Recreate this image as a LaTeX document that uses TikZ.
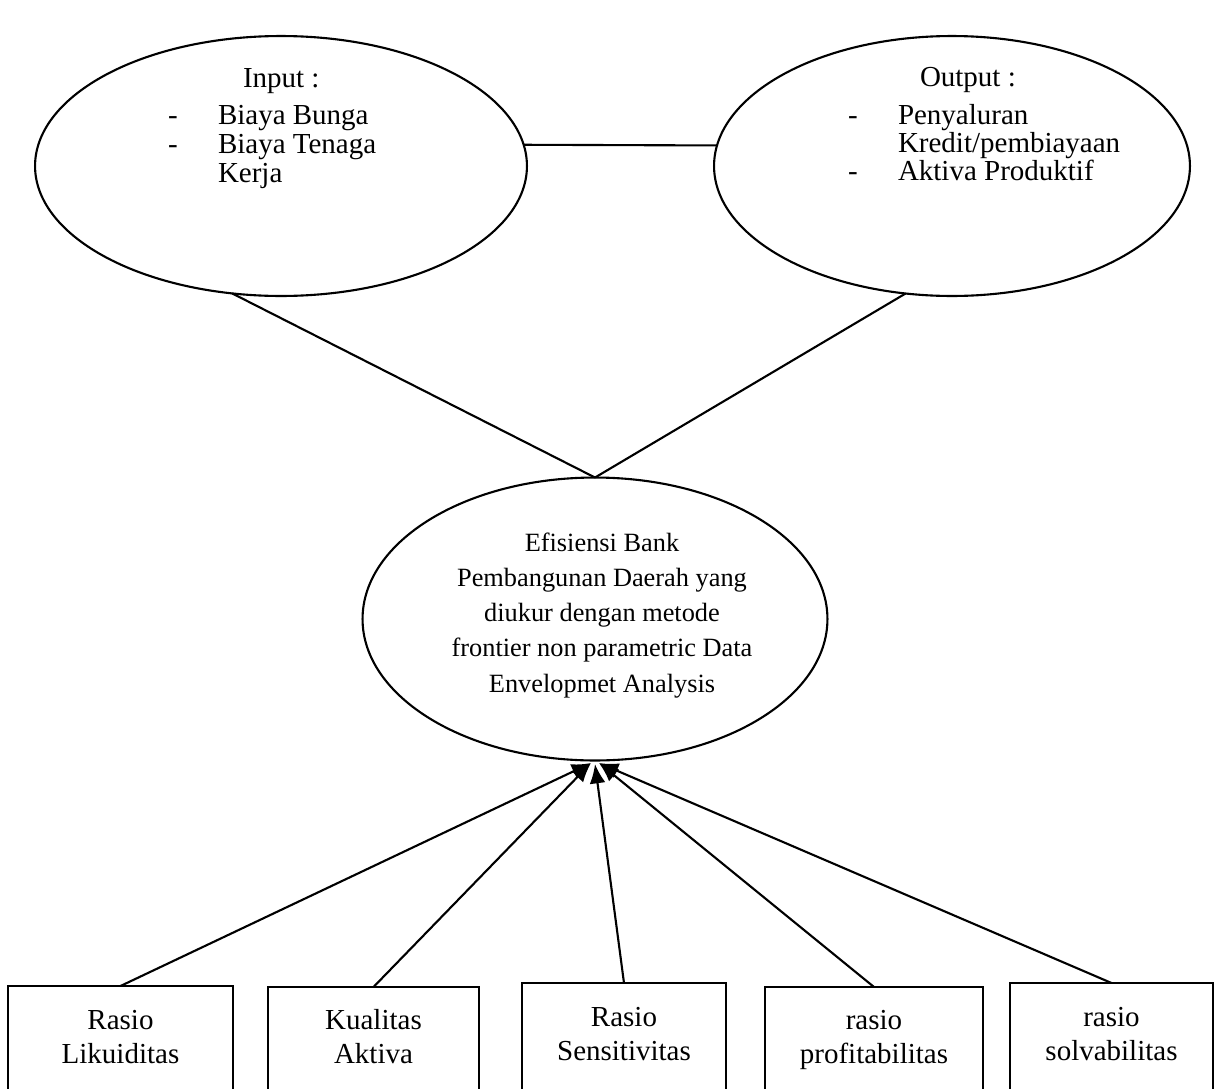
\documentclass[tikz,border=0pt]{standalone}
\usepackage{fontspec}
\setmainfont{Liberation Serif}
\usetikzlibrary{arrows.meta,shapes.geometric}
\begin{document}
\begin{tikzpicture}[x=0.02cm,y=-0.02cm,
  every node/.style={inner sep=0pt,outer sep=0pt},
  oval/.style={draw,ellipse,line width=1.2pt},
  box/.style={draw,rectangle,line width=1.2pt,anchor=north,minimum height=3cm},
  toptext/.style={anchor=base west,font=\fontsize{16.5}{19}\selectfont},
  ctrtext/.style={align=center,anchor=base,font=\fontsize{15}{20}\selectfont},
  boxtext/.style={align=center,anchor=base,font=\fontsize{16.5}{19.3}\selectfont},
  link/.style={line width=1.2pt},
  arr/.style={line width=1.2pt,-{Latex[length=11pt,width=9pt]}}
]
\useasboundingbox (0,0) rectangle (1225,1089);
\clip (0,0) rectangle (1225,1089);

% ellipses
\node[oval,minimum width=9.84cm,minimum height=5.2cm] (inp) at (281,166) {};
\node[oval,minimum width=9.52cm,minimum height=5.2cm] (out) at (952,166) {};
\node[oval,minimum width=9.3cm,minimum height=5.66cm] (ctr) at (595,619) {};

% input text
\node[toptext] (inT) at (243,87) {Input :};
\node[toptext] (inD1) at (168,124) {-};
\node[toptext] (inA) at (218,124) {Biaya Bunga};
\node[toptext] (inD2) at (168,153) {-};
\node[toptext] (inB) at (218,153) {Biaya Tenaga};
\node[toptext] (inC) at (218,182) {Kerja};

% output text
\node[toptext] (outT) at (920,86) {Output :};
\node[toptext] (outD1) at (848,124) {-};
\node[toptext] (outA) at (898,124) {Penyaluran};
\node[toptext] (outB) at (898,152) {Kredit/pembiayaan};
\node[toptext] (outD2) at (848,180) {-};
\node[toptext] (outC) at (898,180) {Aktiva Produktif};

% centre text
\node[ctrtext] (ctrT) at (602,692) {Efisiensi Bank\\Pembangunan Daerah yang\\diukur dengan metode\\frontier non parametric Data\\Envelopmet Analysis};

% boxes
\node[box,minimum width=4.5cm] (b1) at (120.5,986) {};
\node[box,minimum width=4.22cm] (b2) at (373.5,987) {};
\node[box,minimum width=4.08cm] (b3) at (624,983) {};
\node[box,minimum width=4.36cm] (b4) at (874,987) {};
\node[box,minimum width=4.06cm] (b5) at (1111.5,983) {};

\node[boxtext] (t1) at (120.5,1063) {Rasio\\Likuiditas};
\node[boxtext] (t2) at (373.5,1063) {Kualitas\\Aktiva};
\node[boxtext] (t3) at (624,1060) {Rasio\\Sensitivitas};
\node[boxtext] (t4) at (874,1063) {rasio\\profitabilitas};
\node[boxtext] (t5) at (1111.5,1060) {rasio\\solvabilitas};

% connectors
\draw[link] (inp.5) -- (out.175);
\draw[link] (inp.249) -- (ctr.north);
\draw[link] (out.250) -- (ctr.north);

\coordinate (tipA) at (591,763);
\coordinate (tipB) at (595,764);
\coordinate (tipC) at (599,763);
\draw[arr] (b1.north) -- (tipA);
\draw[arr] (b2.north) -- (tipA);
\draw[arr] (b3.north) -- (tipB);
\draw[arr] (b4.north) -- (tipC);
\draw[arr] (b5.north) -- (tipC);
\end{tikzpicture}
\end{document}
